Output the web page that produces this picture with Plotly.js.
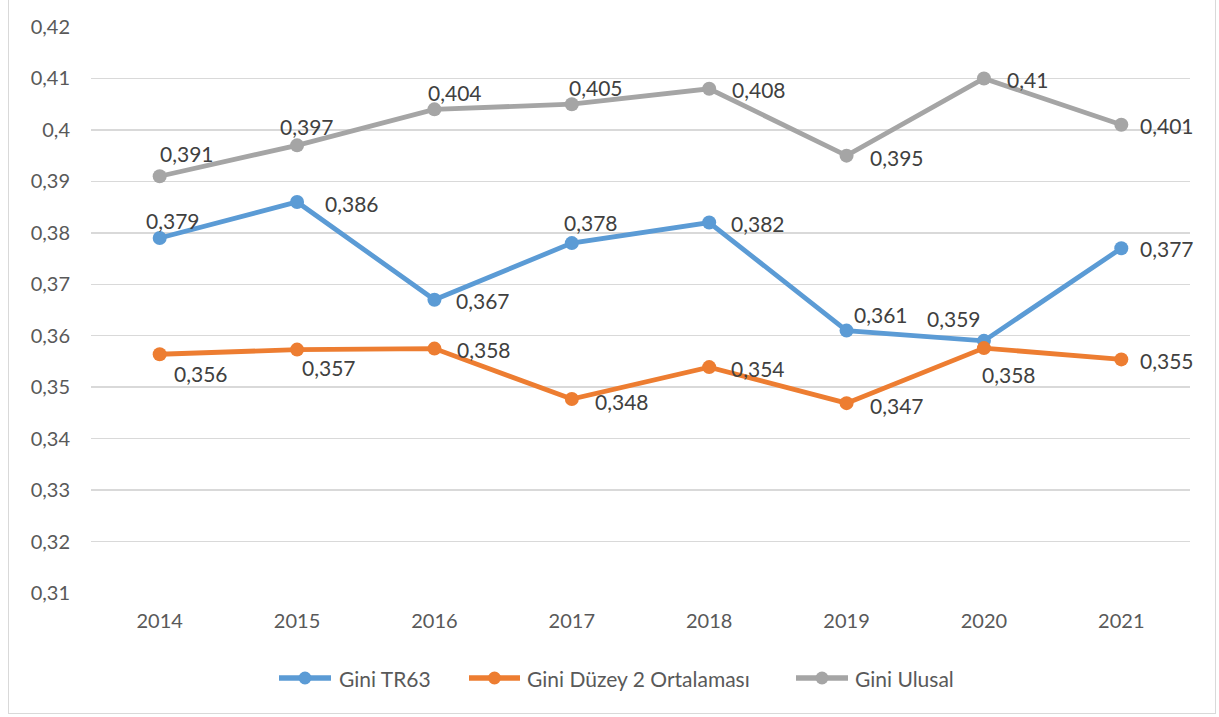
<!DOCTYPE html>
<html>
<head>
<meta charset="utf-8">
<script src="https://cdn.plot.ly/plotly-3.0.1.min.js"></script>
<style>
  html, body { margin: 0; padding: 0; background: #fff; }
  #frame { position: absolute; left: 8px; top: -2px; width: 1208px; height: 716px; border: 1.5px solid #d9d9d9; box-sizing: border-box; }
  #chart { position: absolute; left: 0; top: 0; width: 1219px; height: 717px; }
</style>
</head>
<body>
<div id="frame"></div>
<div id="chart"></div>
<script>
const years = ['2014', '2015', '2016', '2017', '2018', '2019', '2020', '2021'];
const seriesNames = ['Gini TR63', 'Gini Düzey 2 Ortalaması', 'Gini Ulusal'];

const giniTR63 = [0.379, 0.386, 0.367, 0.378, 0.382, 0.361, 0.359, 0.377];
const giniTR63Labels = ['0,379', '0,386', '0,367', '0,378', '0,382', '0,361', '0,359', '0,377'];

const giniDuzey2 = [0.3564, 0.3573, 0.3575, 0.3477, 0.3539, 0.3469, 0.3576, 0.3554];
const giniDuzey2Labels = ['0,356', '0,357', '0,358', '0,348', '0,354', '0,347', '0,358', '0,355'];

const giniUlusal = [0.391, 0.397, 0.404, 0.405, 0.408, 0.395, 0.41, 0.401];
const giniUlusalLabels = ['0,391', '0,397', '0,404', '0,405', '0,408', '0,395', '0,41', '0,401'];

const yTickVals = [0.31, 0.32, 0.33, 0.34, 0.35, 0.36, 0.37, 0.38, 0.39, 0.40, 0.41, 0.42];
const yTickText = ['0,31', '0,32', '0,33', '0,34', '0,35', '0,36', '0,37', '0,38', '0,39', '0,4', '0,41', '0,42'];

// label offsets in pixels (dx right, dy down) relative to each point
const offTR63 = [[13,-17],[55,2],[49,1],[19,-21],[49,1],[34,-16],[-30,-22],[46,0]];
const offDuzey2 = [[41,19],[32,18],[50,1],[50,2],[49,1],[50,2],[25,26],[46,1]];
const offUlusal = [[27,-23],[10,-19],[21,-17],[24,-17],[50,1],[50,2],[44,1],[46,1]];

const FONT = 'Lato, "Open Sans", sans-serif';
const colors = ['#5B9BD5', '#ED7D31', '#A5A5A5'];

// plot area in pixels (for placing the legend)
const PL = 91, PR = 1190, PT = 27, PB = 593;
const px2x = p => (p - PL) / (PR - PL);
const px2y = p => (PB - p) / (PB - PT);

function series(name, vals, color) {
  return {
    type: 'scatter', mode: 'lines+markers', name: name,
    x: years, y: vals,
    line: { color: color, width: 4.8 },
    marker: { color: color, size: 14 },
    hoverinfo: 'skip', showlegend: false
  };
}

const data = [
  series(seriesNames[0], giniTR63, colors[0]),
  series(seriesNames[1], giniDuzey2, colors[1]),
  series(seriesNames[2], giniUlusal, colors[2])
];

const annotations = [];
function addLabels(vals, labels, offs) {
  vals.forEach((v, i) => {
    annotations.push({
      x: i, y: v, xref: 'x', yref: 'y', text: labels[i], showarrow: false,
      xanchor: 'center', yanchor: 'middle',
      xshift: offs[i][0], yshift: -offs[i][1],
      font: { family: FONT, size: 21, color: '#404040' }
    });
  });
}
addLabels(giniUlusal, giniUlusalLabels, offUlusal);
addLabels(giniTR63, giniTR63Labels, offTR63);
addLabels(giniDuzey2, giniDuzey2Labels, offDuzey2);

// legend drawn by hand: [line start px, line end px, text start px]
const legendPos = [[277, 333, 337], [467, 522, 525], [794, 850, 853]];
const legendY = 678;
const shapes = [];
seriesNames.forEach((name, k) => {
  const [a, b, t] = legendPos[k];
  const yp = px2y(legendY);
  shapes.push({
    type: 'line', xref: 'paper', yref: 'paper',
    x0: px2x(a + 2), x1: px2x(b - 2), y0: yp, y1: yp,
    line: { color: colors[k], width: 5.5 }
  });
  shapes.push({
    type: 'circle', xref: 'paper', yref: 'paper',
    xsizemode: 'pixel', ysizemode: 'pixel',
    xanchor: px2x((a + b) / 2), yanchor: yp,
    x0: -6.5, x1: 6.5, y0: -6.5, y1: 6.5,
    fillcolor: colors[k], line: { width: 0 }
  });
  annotations.push({
    xref: 'paper', yref: 'paper', x: px2x(t), y: yp,
    xanchor: 'left', yanchor: 'middle', showarrow: false, text: name,
    font: { family: FONT, size: 21, color: '#595959' }
  });
});

const layout = {
  width: 1219, height: 717,
  margin: { l: PL, r: 1219 - PR, t: PT, b: 717 - PB },
  paper_bgcolor: 'rgba(0,0,0,0)', plot_bgcolor: '#fff',
  font: { family: FONT, size: 20, color: '#595959' },
  showlegend: false,
  xaxis: {
    type: 'category', range: [-0.5, 7.5], showgrid: false, zeroline: false,
    showline: false, ticks: '', ticklabelstandoff: 14,
    tickfont: { family: FONT, size: 20, color: '#595959' }, fixedrange: true
  },
  yaxis: {
    range: [0.31, 0.42], tickvals: yTickVals, ticktext: yTickText,
    showgrid: true, gridcolor: '#d9d9d9', gridwidth: 1.5, zeroline: false,
    showline: false, ticks: '', ticklabelstandoff: 20,
    tickfont: { family: FONT, size: 20, color: '#595959' }, fixedrange: true
  },
  shapes: shapes,
  annotations: annotations
};

Plotly.newPlot('chart', data, layout, { displayModeBar: false, staticPlot: true });
</script>
</body>
</html>
